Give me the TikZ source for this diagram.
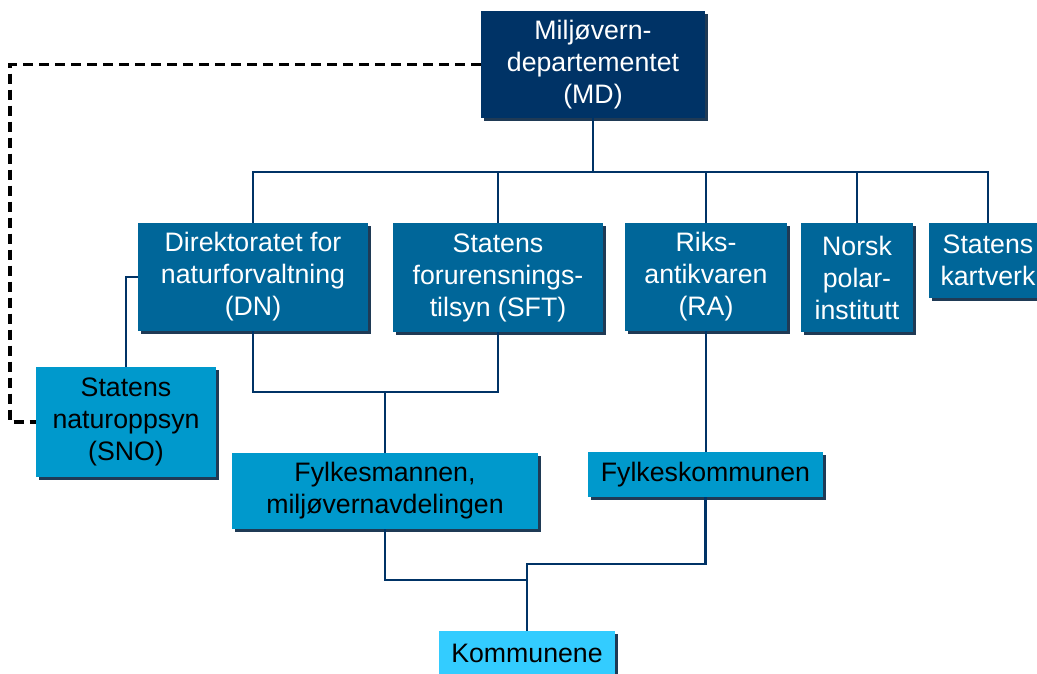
\documentclass[tikz,border=0pt]{standalone}
\usepackage{fontspec}
\setmainfont{Liberation Sans}
\usetikzlibrary{shadows}

\definecolor{mdblue}{HTML}{003366}
\definecolor{dirblue}{HTML}{006699}
\definecolor{regblue}{HTML}{0099CC}
\definecolor{komblue}{HTML}{33CCFF}
\definecolor{shadowblue}{HTML}{1F3A55}

\begin{document}
\begin{tikzpicture}[
    x=1pt,
    y=-1pt,
    font=\fontsize{26.7}{32}\selectfont,
    box/.style={fill=#1, inner sep=0pt, align=center,
      drop shadow={shadow xshift=3pt, shadow yshift=-3pt,
        fill=shadowblue, opacity=1}},
    conn/.style={draw=mdblue, line width=2.8pt},
    dashline/.style={draw=black, line width=3.4pt, dash pattern=on 10pt off 6pt}
  ]
    \useasboundingbox (0,0) rectangle (1037,673);

    % Departementet
    \node[box=mdblue, text=white, minimum width=224pt, minimum height=107pt]
      (md) at (593,64.5) {Miljøvern-\\departementet\\(MD)};

    % --- Direktorater og etater ---
    \node[box=dirblue, text=white, minimum width=230pt, minimum height=108pt]
      (dn) at (253,277) {Direktoratet for\\naturforvaltning\\(DN)};
    \node[box=dirblue, text=white, minimum width=210pt, minimum height=109pt]
      (sft) at (498,277.5) {Statens\\forurensnings-\\tilsyn (SFT)};
    \node[box=dirblue, text=white, minimum width=162pt, minimum height=108pt]
      (ra) at (706,277) {Riks-\\antikvaren\\(RA)};
    \node[box=dirblue, text=white, minimum width=112pt, minimum height=109pt]
      (np) at (857,277.5) {Norsk\\polar-\\institutt};
    \node[box=dirblue, text=white, minimum width=118pt, minimum height=75pt]
      (sk) at (988,260.5) {Statens\\kartverk};

    % --- Regionalt nivå ---
    \node[box=regblue, minimum width=180pt, minimum height=110pt]
      (sno) at (126,422) {Statens\\naturoppsyn\\(SNO)};
    \node[box=regblue, minimum width=306pt, minimum height=76pt]
      (fm) at (385,491) {Fylkesmannen,\\miljøvernavdelingen};
    \node[box=regblue, minimum width=235pt, minimum height=45pt]
      (fk) at (705.5,474.5) {Fylkeskommunen};

    % Kommunene
    \node[box=komblue, minimum width=176pt, minimum height=45pt]
      (kom) at (527,653.5) {Kommunene};

    % Linjer
    \coordinate (bus) at (0,172);
    \coordinate (j1) at (0,392);
    \coordinate (j2) at (0,580);
    \coordinate (j3) at (0,564);
    \coordinate (dleft) at (10,0);

    \draw[conn] (md.south) -- (md.south |- bus);
    \draw[conn] (dn.north) |- (sk.north |- bus) -- (sk.north);
    \foreach \n in {sft,ra,np} {
      \draw[conn] (\n.north) -- (\n.north |- bus);
    }
    \draw[conn] (dn.west) -| (sno.north);
    \draw[conn] (dn.south) |- (sft.south |- j1) -- (sft.south);
    \draw[conn] (fm.north) -- (fm.north |- j1);
    \draw[conn] (ra.south) -- (ra.south |- fk.north);
    \draw[conn] (fm.south) |- (kom.north |- j2);
    \draw[conn] (fk.south) |- (kom.north |- j3) -- (kom.north);

    \draw[dashline] (md.west) -| (dleft |- sno.west) -- (sno.west);
  \end{tikzpicture}
\end{document}
